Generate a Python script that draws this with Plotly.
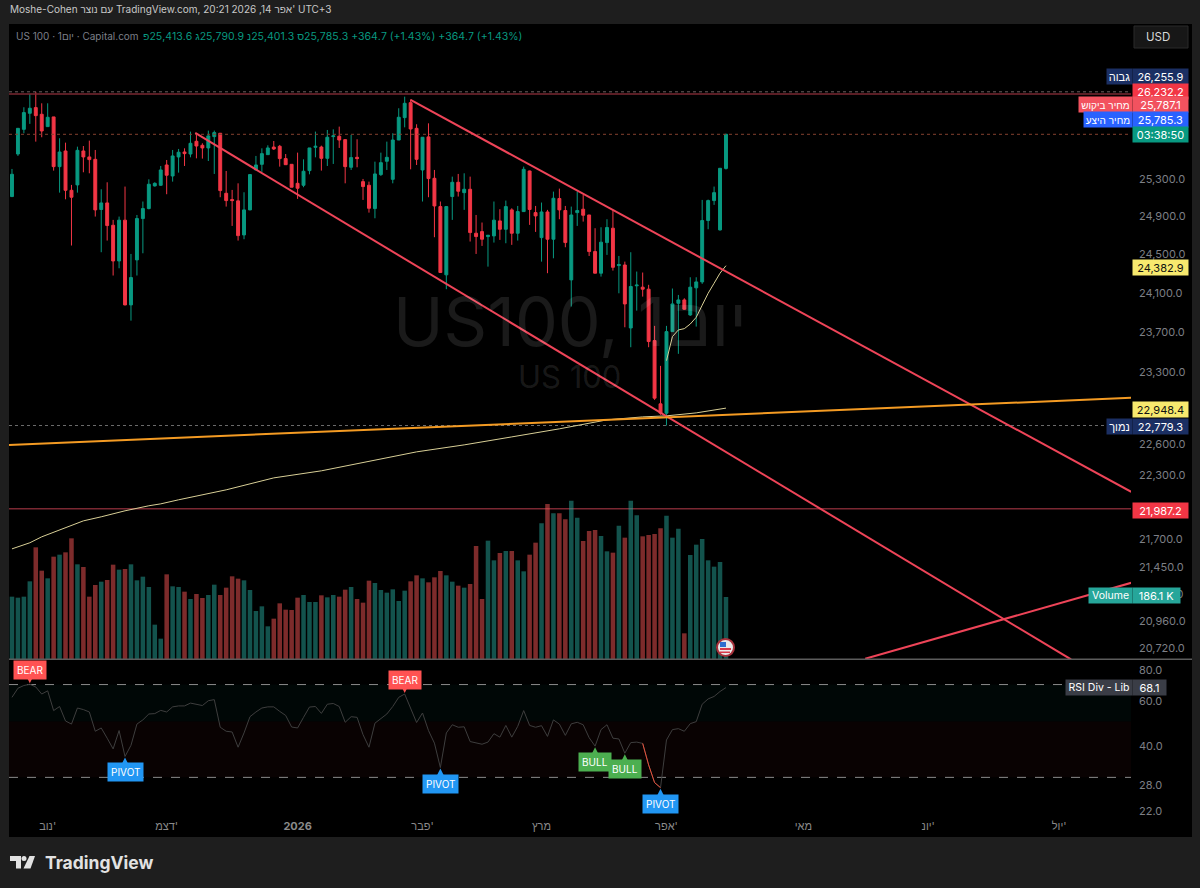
"""US 100 daily chart, TradingView dark style, with volume and RSI panes."""
import math

import plotly.graph_objects as go

# ==== OHLC (daily bars) ====
opens = [
    25111, 25570, 25840, 26017, 26080, 26006, 25870, 25977, 25433, 25603,
    25178, 25236, 25603, 25538, 25512, 24973, 25043, 24806, 24432, 24860,
    23979, 24443, 24877, 24983, 25225, 25232, 25451, 25332, 25538, 25592,
    25570, 25709, 25665, 25636, 25760, 25797, 25146, 25079, 25065, 24704,
    24969, 25397, 25458, 25563, 25646, 25654, 25520, 25458, 25253, 25232,
    25390, 25643, 25646, 25523, 25760, 25764, 25727, 25426, 25534, 25271,
    25232, 24983, 25347, 25491, 25296, 25723, 25969, 26135, 25851, 25397,
    25757, 25307, 25004, 24288, 25111, 25264, 25153, 25189, 24722, 24739,
    24687, 24694, 24852, 24764, 24969, 24722, 24951, 25386, 24940, 24676,
    24947, 24659, 25090, 24962, 24236, 24940, 24976, 24915, 24530, 24305,
    24624, 24775, 24384, 24390, 23745, 24175, 24161, 24140, 23618, 22990,
    22899, 23708, 23996, 24030, 23877, 24154, 24215, 24856, 25068, 24757,
    25413.6,
]
highs = [
    25408, 25851, 26084, 26232, 26256, 26128, 26128, 25977, 25742, 25694,
    25236, 25650, 25657, 25716, 25614, 25189, 25264, 24863, 24898, 25218,
    24505, 24915, 25058, 25296, 25264, 25440, 25505, 25614, 25625, 25632,
    25815, 25779, 25687, 25826, 25826, 25797, 25386, 25182, 25253, 25157,
    25347, 25549, 25632, 25665, 25712, 25669, 25570, 25458, 25585, 25512,
    25636, 25815, 25661, 25833, 25840, 25870, 25731, 25779, 25731, 25300,
    25271, 25487, 25585, 25705, 25797, 26073, 26202, 26172, 25896, 25753,
    25906, 25397, 25058, 25004, 25325, 25354, 25361, 25325, 24915, 24835,
    24704, 25058, 24976, 25068, 24986, 25011, 25433, 25390, 25011, 25047,
    24969, 25164, 25196, 25011, 25004, 25164, 25129, 24915, 24775, 24785,
    24870, 24969, 24484, 24425, 24523, 24322, 24312, 24185, 23766, 23365,
    23766, 24147, 24081, 24047, 24263, 24263, 25075, 25079, 25218, 25415,
    25790.9,
]
lows = [
    25105, 25549, 25797, 25900, 25705, 25753, 25870, 25390, 25153, 25082,
    24593, 25153, 25372, 25361, 24898, 24523, 24645, 24281, 24356, 23975,
    23819, 24281, 24512, 24975, 25218, 25225, 25136, 25271, 25368, 25440,
    25534, 25523, 25520, 25494, 25354, 25104, 25004, 24799, 24645, 24659,
    24965, 25397, 25376, 25563, 25614, 25433, 25454, 25211, 25086, 25211,
    25350, 25534, 25390, 25440, 25462, 25636, 25253, 25397, 25426, 25075,
    24940, 24880, 25332, 25397, 25253, 25723, 25862, 25404, 25451, 25058,
    25104, 24680, 24312, 24140, 24863, 25111, 24969, 24635, 24505, 24589,
    24373, 24624, 24652, 24617, 24600, 24645, 24951, 24810, 24736, 24425,
    24305, 24460, 24870, 24575, 23962, 24799, 24845, 24484, 24305, 24270,
    24495, 24332, 24098, 23752, 23551, 23921, 24064, 23551, 23029, 22883,
    22779.3, 23708, 23485, 23928, 23867, 23759, 24195, 24764, 25022, 24750,
    25401.3,
]
closes = [
    25350, 25851, 26025, 26073, 25991, 25822, 25973, 25433, 25592, 25178,
    25104, 25610, 25538, 25509, 24969, 25043, 24803, 24432, 24860, 23979,
    24260, 24877, 24983, 25243, 25253, 25397, 25340, 25549, 25589, 25574,
    25687, 25657, 25636, 25768, 25804, 25175, 25068, 25068, 24697, 24969,
    25347, 25451, 25574, 25636, 25625, 25520, 25454, 25211, 25200, 25383,
    25636, 25654, 25523, 25753, 25768, 25723, 25433, 25531, 25520, 25218,
    24986, 25354, 25476, 25534, 25723, 25973, 26128, 25844, 25512, 25753,
    25304, 25011, 24312, 25004, 25264, 25168, 25189, 24729, 24687, 24659,
    24701, 24860, 24764, 25004, 24722, 24951, 25404, 24973, 24905, 24947,
    24659, 25093, 24969, 24624, 24915, 24962, 24912, 24530, 24305, 24628,
    24782, 24366, 24394, 23989, 24168, 24182, 24140, 23608, 23046, 22899,
    23708, 23989, 24030, 23935, 24161, 24215, 24856, 25068, 25153, 25415,
    25785.3,
]

# volume, thousands
volumes_k = [
    187, 184, 187, 233, 335, 265, 242, 307, 313, 320,
    362, 284, 276, 187, 222, 232, 237, 283, 268, 270,
    284, 236, 247, 216, 103, 61, 254, 218, 216, 202,
    180, 195, 183, 192, 223, 192, 214, 248, 241, 236,
    207, 144, 158, 98, 121, 167, 148, 147, 184, 192,
    171, 171, 191, 185, 192, 187, 208, 216, 180, 169,
    235, 228, 207, 199, 209, 174, 205, 233, 251, 242,
    230, 245, 264, 251, 232, 220, 214, 225, 339, 180,
    355, 296, 318, 324, 324, 296, 263, 313, 349, 407,
    465, 437, 437, 419, 475, 424, 354, 384, 387, 369,
    323, 319, 400, 364, 475, 431, 368, 372, 375, 392,
    430, 364, 391, 77, 312, 343, 360, 296, 277, 291,
    186.1,
]

rsi_values = [
    62.3, 67.7, 69.4, 70.2, 68.5, 64.2, 66.1, 55.2, 57.3, 50.2,
    48.8, 56.5, 55.7, 54.5, 45.7, 47.1, 42.9, 38.9, 46.0, 36.3,
    40.2, 48.8, 50.7, 53.5, 53.7, 55.3, 54.5, 57.1, 57.6, 57.6,
    59.1, 58.5, 57.8, 60.4, 61.0, 47.4, 45.7, 45.4, 39.5, 45.0,
    52.2, 54.5, 56.5, 57.1, 57.1, 54.8, 52.8, 47.5, 47.1, 51.9,
    57.0, 57.3, 53.8, 58.5, 58.9, 57.3, 49.6, 52.2, 51.9, 44.3,
    39.5, 49.2, 51.5, 53.5, 57.3, 62.3, 64.2, 56.5, 49.5, 54.0,
    46.0, 41.0, 32.8, 45.0, 48.5, 47.4, 47.6, 41.6, 41.0, 40.6,
    41.4, 44.7, 43.3, 48.2, 43.3, 47.8, 55.2, 48.2, 47.4, 48.1,
    43.6, 50.7, 48.8, 44.0, 48.9, 49.6, 48.5, 43.1, 39.9, 46.4,
    48.5, 42.9, 42.6, 37.4, 41.2, 41.4, 40.9, 33.6, 28.6, 27.3,
    42.2, 46.4, 46.8, 45.7, 49.0, 49.9, 58.5, 61.4, 62.8, 65.7,
    68.1,
]

# moving averages
ma_long_bars = [0, 3, 5, 8, 12, 15, 19, 23, 25, 28, 31, 36, 44, 52, 68, 76, 84, 92, 100, 106, 110, 115, 120]
ma_long = [21614, 21670, 21725, 21790, 21873, 21911, 21967, 22014, 22032, 22070, 22107, 22164,
           22277, 22344, 22525, 22592, 22669, 22747, 22834, 22863, 22873, 22902, 22948.4]
ma_short_bars = [110, 111, 112, 113, 114, 115, 116, 117, 118, 119, 120]
ma_short = [23417, 23658, 23725, 23738, 23785, 23853, 23976, 24098, 24201, 24305, 24382.9]

# ==== DRAWINGS (bar, price) ====
channel_top_bars, channel_top = [67, 188.1], [26165, 22145]
channel_bottom_bars, channel_bottom = [30.8, 178], [25800, 20620]
rising_red_bars, rising_red = [143.4, 188.1], [20626, 21304]
orange_bars, orange = [-0.5, 188.1], [22592, 23049]

SESSION_HIGH = 26255.9
RESISTANCE = 26232.2
LAST_PRICE = 25785.3
SESSION_LOW = 22779.3
SUPPORT_RED = 21987.2

# ==== AXES ====
price_ticks = [25300, 24900, 24500, 24100, 23700, 23300, 22600, 22300, 21700, 21450, 21200, 20960, 20720]
rsi_ticks = [80, 60, 40, 28, 22]
month_bars = [6, 26, 48, 69, 89, 110, 133, 154, 176]
month_labels = ["נוב'", "דצמ'", "<b>2026</b>", "פבר'", "מרץ", "אפר'", "מאי", "יונ'", "יול'"]

# RSI signals: (bar, label, colour, side)
rsi_signals = [
    (3, "BEAR", "#ff5252", "above"),
    (19, "PIVOT", "#2196f3", "below"),
    (66, "BEAR", "#ff5252", "above"),
    (72, "PIVOT", "#2196f3", "below"),
    (98, "BULL", "#4caf50", "below"),
    (103, "BULL", "#4caf50", "below"),
    (109, "PIVOT", "#2196f3", "below"),
]

FONT = "Inter, 'Liberation Sans', sans-serif"
UP = "#089981"
DOWN = "#f23645"
X_RANGE = [-0.5, 188.07]
bars = list(range(len(closes)))


def fx(px):
    return px / 1200


def fy(py):
    return 1 - py / 888


def add_line(fig, x, y, color, width=1, dash="solid", yaxis="y"):
    fig.add_trace(go.Scatter(x=x, y=y, mode="lines", yaxis=yaxis, hoverinfo="skip",
                             line=dict(color=color, width=width, dash=dash)))


fig = go.Figure()

# ------------------------------------------------------
# level lines first so the candles sit over them
for level, color, width, dash in [
    (SESSION_HIGH, "#6e6060", 1, "dot"),
    (RESISTANCE, "#7a2832", 1.5, "solid"),
    (LAST_PRICE, "#84402f", 1, "dot"),
    (SESSION_LOW, "#6a6a6a", 1, "dot"),
    (SUPPORT_RED, "#7a2832", 1.5, "solid"),
]:
    add_line(fig, X_RANGE, [level, level], color, width, dash)

fig.add_trace(go.Candlestick(
    x=bars, open=opens, high=highs, low=lows, close=closes, whiskerwidth=0, hoverinfo="skip",
    increasing=dict(line=dict(color=UP, width=1), fillcolor=UP),
    decreasing=dict(line=dict(color=DOWN, width=1), fillcolor=DOWN),
))

add_line(fig, ma_long_bars, ma_long, "#d8cf96", 1)
add_line(fig, ma_short_bars, ma_short, "#d8cf96", 1)
add_line(fig, channel_top_bars, channel_top, "#ee4458", 2)
add_line(fig, channel_bottom_bars, channel_bottom, "#ee4458", 2)
add_line(fig, rising_red_bars, rising_red, "#ee4458", 2)
add_line(fig, orange_bars, orange, "#f49b23", 2)

# === volume ===
fig.add_trace(go.Bar(
    x=bars, y=volumes_k, yaxis="y3", width=0.76, hoverinfo="skip",
    marker=dict(line=dict(width=0),
                color=["rgba(38,166,154,0.5)" if c >= o else "rgba(250,85,85,0.5)"
                       for o, c in zip(opens, closes)]),
))

# === RSI pane ===
for low, high, color in [(50, 70, "rgba(8,153,129,0.045)"), (30, 50, "rgba(242,54,69,0.035)")]:
    fig.add_trace(go.Scatter(
        x=[X_RANGE[0], X_RANGE[1], X_RANGE[1], X_RANGE[0]], y=[low, low, high, high],
        yaxis="y2", mode="lines", fill="toself", fillcolor=color, line=dict(width=0), hoverinfo="skip",
    ))
add_line(fig, X_RANGE, [70, 70], "#8a8a8a", 1, "dash", "y2")
add_line(fig, X_RANGE, [30, 30], "#8a8a8a", 1, "dash", "y2")
add_line(fig, bars, rsi_values, "#3e3e3e", 1, yaxis="y2")
add_line(fig, bars[106:110], rsi_values[106:110], "#e8503a", 1, yaxis="y2")

# ------------------------------------------------------
notes = []


def note(px, py, text, size=11, color="#d1d4dc", anchor="left", **kw):
    notes.append(dict(x=fx(px), y=fy(py), xref="paper", yref="paper", text=text, showarrow=False,
                      xanchor=anchor, yanchor="middle", font=dict(family=FONT, size=size, color=color), **kw))


def tag(left, right, py, text, bg, color="#ffffff", size=11):
    notes.append(dict(x=fx(left), y=fy(py), xref="paper", yref="paper", text=text, showarrow=False,
                      xanchor="left", yanchor="middle", width=right - left - 2, height=13, bgcolor=bg,
                      align="center", font=dict(family=FONT, size=size, color=color)))


# header strip
note(8, 9, "Moshe-Cohen עם נוצר TradingView.com, 20:21 2026 ,14 אפר' UTC+3", size=10, color="#c8c8c8")
note(14, 36, "US 100 · 1יום · Capital.com", size=10, color="#7c7f88")
ohlc_row = "פ\u200e25,413.6 ג\u200e25,790.9 נ\u200e25,401.3 ס\u200e25,785.3 +364.7 (+1.43%) +364.7 (+1.43%)"
note(141, 36, ohlc_row, size=10.5, color=UP)

# watermark
note(570, 321, "US100, 1יום", size=68, color="rgba(255,255,255,0.1)", anchor="center")
note(569, 377, "US 100", size=31, color="rgba(255,255,255,0.1)", anchor="center")

# price tags
tag(1106, 1131, 76, "גבוה", "#1b2f63")
tag(1132, 1187, 76, "26,255.9", "#1b2f63")
tag(1132, 1187, 91, "26,232.2", "#f23645")
tag(1078, 1131, 105, "מחיר ביקוש", "#f2525f", size=10)
tag(1132, 1187, 105, "25,787.1", "#f2525f")
tag(1083, 1131, 120, "מחיר היצע", "#2962ff", size=10)
tag(1132, 1187, 120, "25,785.3", "#2962ff")
tag(1132, 1187, 134, "03:38:50", UP)
tag(1132, 1187, 267, "24,382.9", "#f7e96e", "#111111")
tag(1132, 1187, 409, "22,948.4", "#f7e96e", "#111111")
tag(1106, 1131, 427, "נמוך", "#1b2f63")
tag(1132, 1187, 427, "22,779.3", "#1b2f63")
tag(1132, 1187, 510, "21,987.2", "#f23645")
tag(1088, 1131, 595, "Volume", "#26a69a", size=10.5)
tag(1132, 1179, 595, "186.1 K", "#26a69a")
tag(1065, 1131, 687, "RSI Div - Lib", "#3a3d46", size=10.5)
tag(1132, 1165, 687, "68.1", "#3a3d46")

note(1144, 37, "USD", size=11.5, color="#d8d8d8")
note(43, 862, "<b>TradingView</b>", size=17.5, color="#e2e2e2")

# RSI signal labels, pointer and box are separate so the arrow stays off the text
for bar, label, color, side in rsi_signals:
    up = side == "above"
    rsi_y = math.log10(rsi_values[bar])
    notes.append(dict(x=bar, y=rsi_y, xref="x", yref="y2", text="", ax=0, ay=-9 if up else 9, standoff=1,
                      showarrow=True, arrowhead=2, arrowsize=1, arrowwidth=3, arrowcolor=color))
    notes.append(dict(x=bar, y=rsi_y, xref="x", yref="y2", text=label, showarrow=False, yshift=14 if up else -16,
                      bgcolor=color, borderpad=3, font=dict(family=FONT, size=10, color="#ffffff")))


def box(x0, y0, x1, y1, **kw):
    return dict(type="rect", xref="paper", yref="paper", x0=fx(x0), x1=fx(x1), y0=fy(y0), y1=fy(y1), **kw)


def poly(points, color):
    path = "M " + " L ".join(f"{fx(x):.5f},{fy(y):.5f}" for x, y in points) + " Z"
    return dict(type="path", xref="paper", yref="paper", path=path, fillcolor=color, line=dict(width=0))


shapes = [
    box(9, 24, 1192, 837, fillcolor="#000000", line=dict(width=0), layer="below"),
    box(9, 658.5, 1192, 660, fillcolor="#5c5c5c", line=dict(width=0)),
    box(1134, 26, 1188, 48, fillcolor="#171717", line=dict(color="#2a2a2a", width=1)),
    # flag badge
    dict(type="circle", xref="paper", yref="paper", x0=fx(717), x1=fx(734), y0=fy(639), y1=fy(656),
         fillcolor="#e9e9e9", line=dict(color="#a8323c", width=2)),
    box(720, 648, 731, 650, fillcolor="#d8394a", line=dict(width=0)),
    box(720, 651.5, 730, 653, fillcolor="#d8394a", line=dict(width=0)),
    box(720, 642, 726, 647, fillcolor="#2f6fd0", line=dict(width=0)),
    # TradingView logo
    poly([(10, 856), (21, 856), (21, 868.5), (16, 868.5), (16, 861), (10, 861)], "#e2e2e2"),
    dict(type="circle", xref="paper", yref="paper", x0=fx(21.5), x1=fx(26.5), y0=fy(856), y1=fy(861),
         fillcolor="#e2e2e2", line=dict(width=0)),
    poly([(29.5, 856), (35, 856), (30.5, 868.5), (23.5, 868.5)], "#e2e2e2"),
]

fig.update_layout(
    width=1200,
    height=888,
    margin=dict(l=0, r=0, t=0, b=0),
    paper_bgcolor="#1e1e1e",
    plot_bgcolor="#000000",
    showlegend=False,
    barmode="overlay",
    font=dict(family=FONT, size=11, color="#7d7f85"),
    annotations=notes,
    shapes=shapes,
    xaxis=dict(
        domain=[fx(9), fx(1131)], range=X_RANGE, anchor="y2", rangeslider=dict(visible=False),
        showgrid=False, zeroline=False, showline=False, ticks="", tickmode="array",
        tickvals=month_bars, ticktext=month_labels, tickfont=dict(size=11, color="#8a8a8a"),
    ),
    yaxis=dict(
        domain=[fy(659), fy(24)], type="log", range=[math.log10(20624), math.log10(27025)], side="right",
        anchor="x", showgrid=False, zeroline=False, ticks="", tickmode="array", tickvals=price_ticks,
        ticktext=[f"{t:,.1f}" for t in price_ticks], ticklabelstandoff=7, tickfont=dict(size=11, color="#7d7f85"),
    ),
    yaxis2=dict(
        domain=[fy(818), fy(660)], type="log", range=[math.log10(20.7), math.log10(87.6)], side="right",
        anchor="x", showgrid=False, zeroline=False, ticks="", tickmode="array", tickvals=rsi_ticks,
        ticktext=[f"{t:.1f}" for t in rsi_ticks], ticklabelstandoff=7, tickfont=dict(size=11, color="#7d7f85"),
    ),
    yaxis3=dict(overlaying="y", anchor="x", side="right", range=[0, 1905], visible=False),
)

fig.write_html("out.html", config={"displayModeBar": False}, post_script="document.body.style.margin='0';")
